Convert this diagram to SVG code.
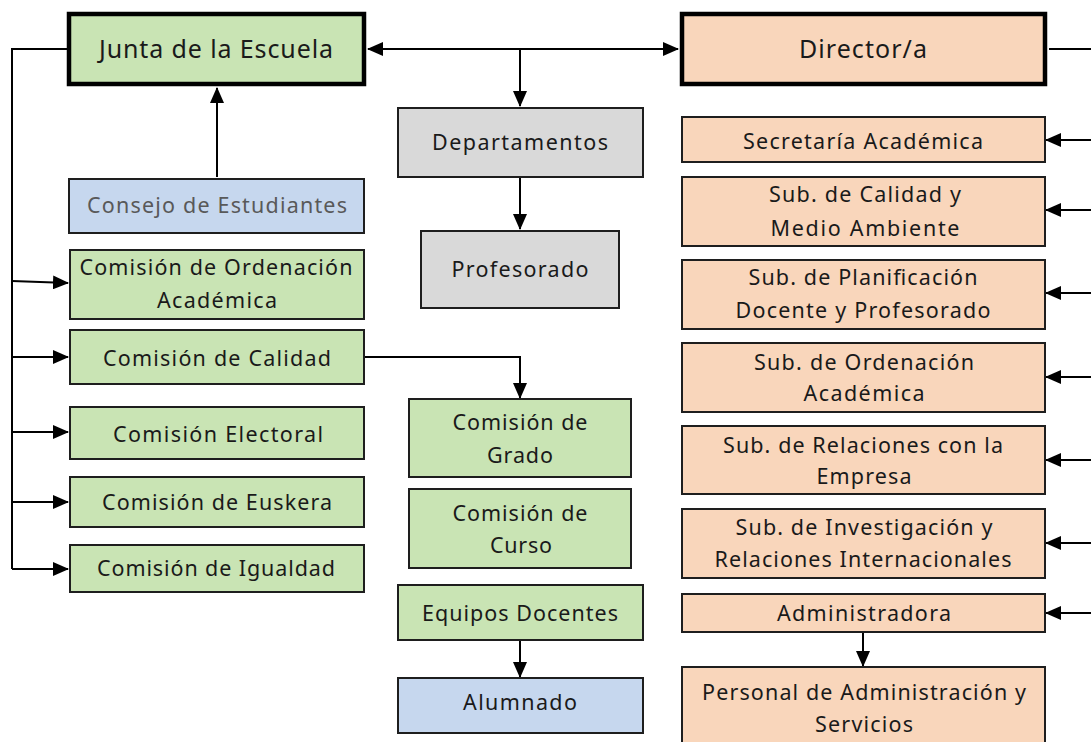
<svg xmlns="http://www.w3.org/2000/svg" width="1091" height="742" viewBox="0 0 1091 742">
<style>
  .g { fill: #c9e4b4; }
  .o { fill: #f9d6bb; }
  .b { fill: #c6d7ee; }
  .gr { fill: #d9d9d9; }
  rect { stroke: #1e1e1e; stroke-width: 2; }
  rect.main { stroke: #000; stroke-width: 4.5; }
  text { font-family: "Noto Sans", "Open Sans", sans-serif; font-size: 21.5px; fill: #1a1a1a; text-anchor: middle; }
  text.big { font-size: 25px; }
  text.muted { fill: #595959; }
  .c path, .c line, .c polyline { stroke: #000; stroke-width: 2; fill: none; }
</style>
<defs>
  <marker id="ah" markerUnits="userSpaceOnUse" markerWidth="16" markerHeight="14" refX="15" refY="7" orient="auto-start-reverse" viewBox="0 0 16 14">
    <path d="M0,0 L16,7 L0,14 z" fill="#000"/>
  </marker>
</defs>
<rect x="0" y="0" width="1091" height="742" fill="#fff" style="stroke:none"/>

<g class="c" id="connectors">
  <line x1="368" y1="49" x2="678" y2="49" marker-start="url(#ah)" marker-end="url(#ah)"/>
  <line x1="520" y1="49" x2="520" y2="106" marker-end="url(#ah)"/>
  <line x1="1049" y1="49" x2="1091" y2="49"/>
  <line x1="520" y1="178" x2="520" y2="229" marker-end="url(#ah)"/>
  <line x1="217" y1="177" x2="217" y2="88" marker-end="url(#ah)"/>
  <polyline points="67,49 12,49 12,569"/>
  <path d="M12,281 L68,283" marker-end="url(#ah)"/>
  <line x1="12" y1="357" x2="68" y2="357" marker-end="url(#ah)"/>
  <line x1="12" y1="432" x2="68" y2="432" marker-end="url(#ah)"/>
  <line x1="12" y1="502" x2="68" y2="502" marker-end="url(#ah)"/>
  <line x1="12" y1="569" x2="68" y2="569" marker-end="url(#ah)"/>
  <polyline points="365,357 520,357 520,398" marker-end="url(#ah)"/>
  <line x1="520" y1="641" x2="520" y2="677" marker-end="url(#ah)"/>
  <line x1="1091" y1="140" x2="1046" y2="140" marker-end="url(#ah)"/>
  <line x1="1091" y1="210" x2="1046" y2="210" marker-end="url(#ah)"/>
  <line x1="1091" y1="293" x2="1046" y2="293" marker-end="url(#ah)"/>
  <line x1="1091" y1="377" x2="1046" y2="377" marker-end="url(#ah)"/>
  <line x1="1091" y1="460" x2="1046" y2="460" marker-end="url(#ah)"/>
  <line x1="1091" y1="543" x2="1046" y2="543" marker-end="url(#ah)"/>
  <line x1="1091" y1="613" x2="1046" y2="613" marker-end="url(#ah)"/>
  <line x1="863" y1="633" x2="863" y2="666" marker-end="url(#ah)"/>
</g>

<g id="junta"><rect class="g main" x="69" y="14" width="295" height="70"/><text class="big" x="216" y="58" textLength="234">Junta de la Escuela</text></g>
<g id="director"><rect class="o main" x="682" y="14" width="363" height="70"/><text class="big" x="863" y="58" textLength="128">Director/a</text></g>
<g id="consejo"><rect class="b" x="69" y="179" width="295" height="54"/><text class="muted" x="217" y="213" textLength="260">Consejo de Estudiantes</text></g>
<g id="departamentos"><rect class="gr" x="398" y="108" width="245" height="69"/><text x="520" y="150" textLength="176">Departamentos</text></g>
<g id="profesorado"><rect class="gr" x="421" y="231" width="198" height="77"/><text x="520" y="277" textLength="137">Profesorado</text></g>

<g id="com-ordenacion"><rect class="g" x="70" y="250" width="294" height="69"/><text x="216" y="275" textLength="273">Comisión de Ordenación</text><text x="217" y="308" textLength="120">Académica</text></g>
<g id="com-calidad"><rect class="g" x="70" y="330" width="294" height="54"/><text x="217" y="366" textLength="228">Comisión de Calidad</text></g>
<g id="com-electoral"><rect class="g" x="70" y="407" width="294" height="52"/><text x="218" y="442" textLength="210">Comisión Electoral</text></g>
<g id="com-euskera"><rect class="g" x="70" y="477" width="294" height="50"/><text x="217" y="510" textLength="230">Comisión de Euskera</text></g>
<g id="com-igualdad"><rect class="g" x="70" y="545" width="294" height="47"/><text x="216" y="576" textLength="238">Comisión de Igualdad</text></g>

<g id="com-grado"><rect class="g" x="409" y="399" width="222" height="78"/><text x="520" y="430" textLength="135">Comisión de</text><text x="520" y="463" textLength="66">Grado</text></g>
<g id="com-curso"><rect class="g" x="409" y="489" width="222" height="79"/><text x="520" y="521" textLength="135">Comisión de</text><text x="521" y="553" textLength="62">Curso</text></g>
<g id="equipos"><rect class="g" x="398" y="585" width="245" height="55"/><text x="520" y="621" textLength="196">Equipos Docentes</text></g>
<g id="alumnado"><rect class="b" x="398" y="678" width="245" height="55"/><text x="520" y="710" textLength="114">Alumnado</text></g>

<g id="secretaria"><rect class="o" x="682" y="117" width="363" height="45"/><text x="863" y="149" textLength="240">Secretaría Académica</text></g>
<g id="sub-calidad"><rect class="o" x="682" y="177" width="363" height="69"/><text x="865" y="202" textLength="192">Sub. de Calidad y</text><text x="865" y="236" textLength="189">Medio Ambiente</text></g>
<g id="sub-planificacion"><rect class="o" x="682" y="260" width="363" height="69"/><text x="863" y="285" textLength="229">Sub. de Planificación</text><text x="863" y="318" textLength="255">Docente y Profesorado</text></g>
<g id="sub-ordenacion"><rect class="o" x="682" y="343" width="363" height="69"/><text x="864" y="370" textLength="220">Sub. de Ordenación</text><text x="864" y="401" textLength="121">Académica</text></g>
<g id="sub-relaciones"><rect class="o" x="682" y="426" width="363" height="68"/><text x="863" y="453" textLength="280">Sub. de Relaciones con la</text><text x="864" y="484" textLength="95">Empresa</text></g>
<g id="sub-investigacion"><rect class="o" x="682" y="509" width="363" height="69"/><text x="864" y="535" textLength="257">Sub. de Investigación y</text><text x="863" y="567" textLength="297">Relaciones Internacionales</text></g>
<g id="administradora"><rect class="o" x="682" y="594" width="363" height="38"/><text x="864" y="621" textLength="174">Administradora</text></g>
<g id="personal"><rect class="o" x="682" y="667" width="363" height="85"/><text x="864" y="700" textLength="324">Personal de Administración y</text><text x="864" y="732" textLength="98">Servicios</text></g>
</svg>
